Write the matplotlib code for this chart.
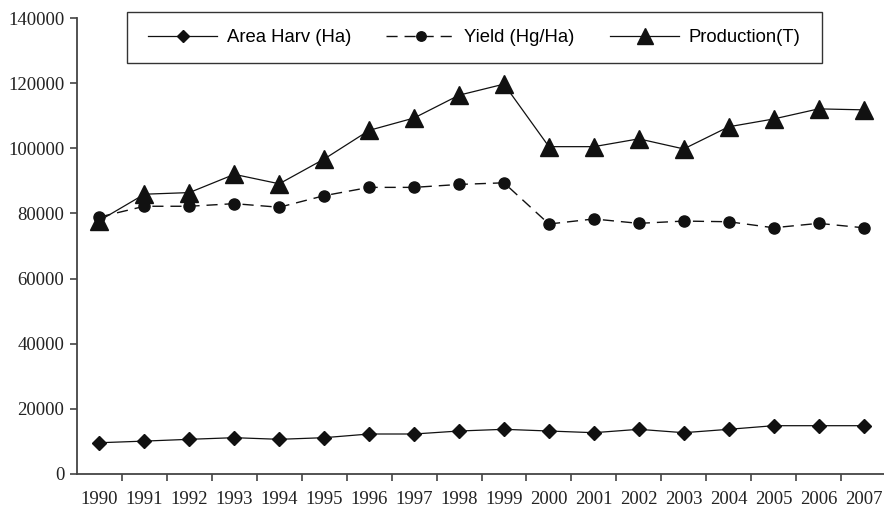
import matplotlib.pyplot as plt
import numpy as np
from matplotlib.patches import Rectangle

# values
years = [str(y) for y in range(1990, 2008)]
area_harv = [9600, 10100, 10650, 11150, 10650, 11150, 12280, 12280, 13200,
             13720, 13200, 12680, 13720, 12680, 13720, 14830, 14830, 14830]
yield_hg = [78900, 82200, 82200, 83000, 81900, 85450, 88000, 88000, 88900,
            89400, 76750, 78300, 76950, 77650, 77450, 75600, 76950, 75600]
production = [77800, 85900, 86400, 92000, 89100, 96700, 105500, 109300, 116300,
              119700, 100500, 100500, 102900, 99800, 106600, 109000, 112100, 111800]
y_ticks = [0, 20000, 40000, 60000, 80000, 100000, 120000, 140000]

INK = "#111111"
AXIS = "#444444"
W, H = 884, 508


def main() -> None:
    fig = plt.figure(figsize=(W / 100, H / 100), dpi=100)
    ax = fig.add_axes([77 / W, 1 - 474 / H, 809 / W, 456 / H])

    x = np.arange(len(years))
    ax.plot(x, area_harv, color=INK, lw=0.9, marker="D", markersize=7,
            label="Area Harv (Ha)")
    ax.plot(x, yield_hg, color=INK, lw=1.0, linestyle=(0, (8, 5)), marker="o",
            markersize=8, label="Yield (Hg/Ha)")
    ax.plot(x, production, color=INK, lw=0.9, marker="^", markersize=13,
            label="Production(T)")

    ax.set_xlim(-0.5, len(years) - 0.5)
    ax.set_ylim(0, 140000)
    ax.set_yticks(y_ticks)
    ax.set_yticklabels([str(v) for v in y_ticks], family="Liberation Serif",
                       fontsize=13.5, color="#222222")
    ax.set_xticks(x)
    ax.set_xticklabels(years, family="Liberation Serif", fontsize=13.5,
                       color="#222222")
    ax.set_xticks(np.arange(0.5, len(years) - 0.5, 1.0), minor=True)
    ax.tick_params(axis="x", which="major", length=0, pad=12)
    ax.tick_params(axis="x", which="minor", length=5, width=1.2, color=AXIS,
                   direction="out")
    ax.tick_params(axis="y", length=5, width=1.2, color=AXIS, direction="out",
                   pad=4)

    for side in ("top", "right"):
        ax.spines[side].set_visible(False)
    for side in ("left", "bottom"):
        ax.spines[side].set_color(AXIS)
        ax.spines[side].set_linewidth(1.3)

    # legend frame drawn separately so padding matches the original box
    fig.patches.append(Rectangle((127 / W, 1 - 63 / H), 695 / W, 51 / H,
                                 transform=fig.transFigure, fill=False,
                                 edgecolor="#333333", linewidth=1.0))
    ax.legend(loc="center left", bbox_to_anchor=(148 / W, 1 - 38 / H),
              bbox_transform=fig.transFigure, ncol=3, frameon=False,
              prop={"family": "Liberation Sans", "size": 13.3},
              handlelength=3.75, handletextpad=0.5, columnspacing=1.9,
              borderpad=0, borderaxespad=0, markerscale=0.85)

    fig.savefig("out.png", dpi=100, facecolor="white")
    plt.close(fig)


if __name__ == "__main__":
    main()
